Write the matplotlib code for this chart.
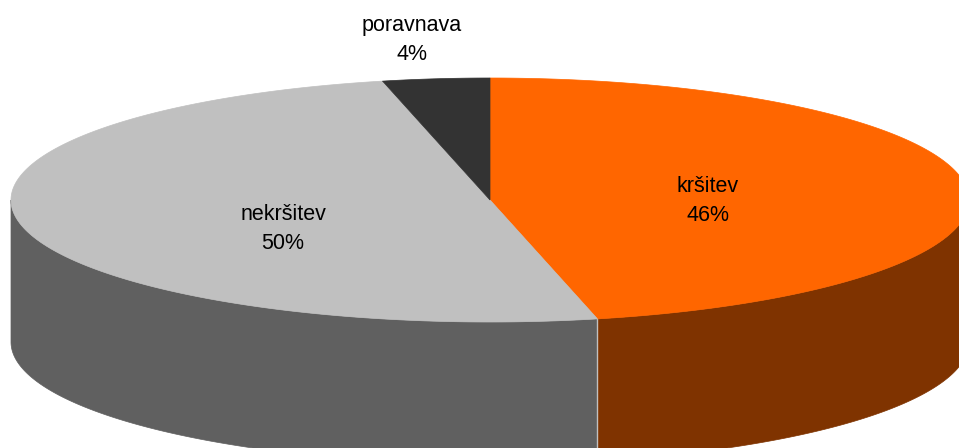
import numpy as np
import matplotlib.pyplot as plt
from matplotlib.patches import Polygon

labels = ['kršitev', 'nekršitev', 'poravnava']
values = [46.4, 50.0, 3.6]
top_colors = ['#FF6600', '#C0C0C0', '#333333']
side_colors = ['#7F3300', '#606060', '#1A1A1A']
label_pos = [(708, 201), (283, 229), (412, 40)]

# ellipse geometry in pixels
cx, cy = 490, 200
a, b = 479, 122
depth = 142


def ell(t_deg, dy=0.0):
    t = np.radians(t_deg)
    return cx + a * np.cos(t), cy - b * np.sin(t) + dy


def front_parts(t_hi, t_lo):
    # parts of [t_lo, t_hi] lying in the front half (sin < 0)
    parts = []
    for k in (-1, 0, 1):
        lo, hi = -180 + 360 * k, 360 * k
        s, e = max(t_lo, lo), min(t_hi, hi)
        if e > s:
            parts.append((s, e))
    return parts


fig = plt.figure(figsize=(9.59, 4.48), dpi=100)
ax = fig.add_axes([0, 0, 1, 1])
ax.set_xlim(0, 959)
ax.set_ylim(448, 0)
ax.axis('off')

total = sum(values)
angles = []
start = 90.0
for v in values:
    end = start - v / total * 360.0
    angles.append((start, end))
    start = end

# side walls
for (t0, t1), sc in zip(angles, side_colors):
    for s, e in front_parts(t0, t1):
        ts = np.linspace(s, e, 200)
        xt, yt = ell(ts)
        xb, yb = ell(ts[::-1], depth)
        pts = np.column_stack([np.r_[xt, xb], np.r_[yt, yb]])
        ax.add_patch(Polygon(pts, closed=True, facecolor=sc, edgecolor=sc, lw=0.5, zorder=1))

# separator lines on the side between slices
for t0, t1 in angles:
    tt = ((t1 + 180) % 360) - 180
    if np.sin(np.radians(tt)) < 0:
        x, y = ell(tt)
        ax.plot([x, x], [y, y + depth], color='#C0C0C0', lw=1, zorder=2)

# top faces
for (t0, t1), tc in zip(angles, top_colors):
    ts = np.linspace(t0, t1, 300)
    xt, yt = ell(ts)
    pts = np.column_stack([np.r_[cx, xt], np.r_[cy, yt]])
    ax.add_patch(Polygon(pts, closed=True, facecolor=tc, edgecolor=tc, lw=0.5, zorder=3))

for lab, v, (x, y) in zip(labels, values, label_pos):
    ax.text(x, y, f'{lab}\n{round(v)}%', ha='center', va='center', fontsize=15.5,
            family='Liberation Sans', linespacing=1.55, color='black', zorder=5)

fig.savefig('out.png', dpi=100)
